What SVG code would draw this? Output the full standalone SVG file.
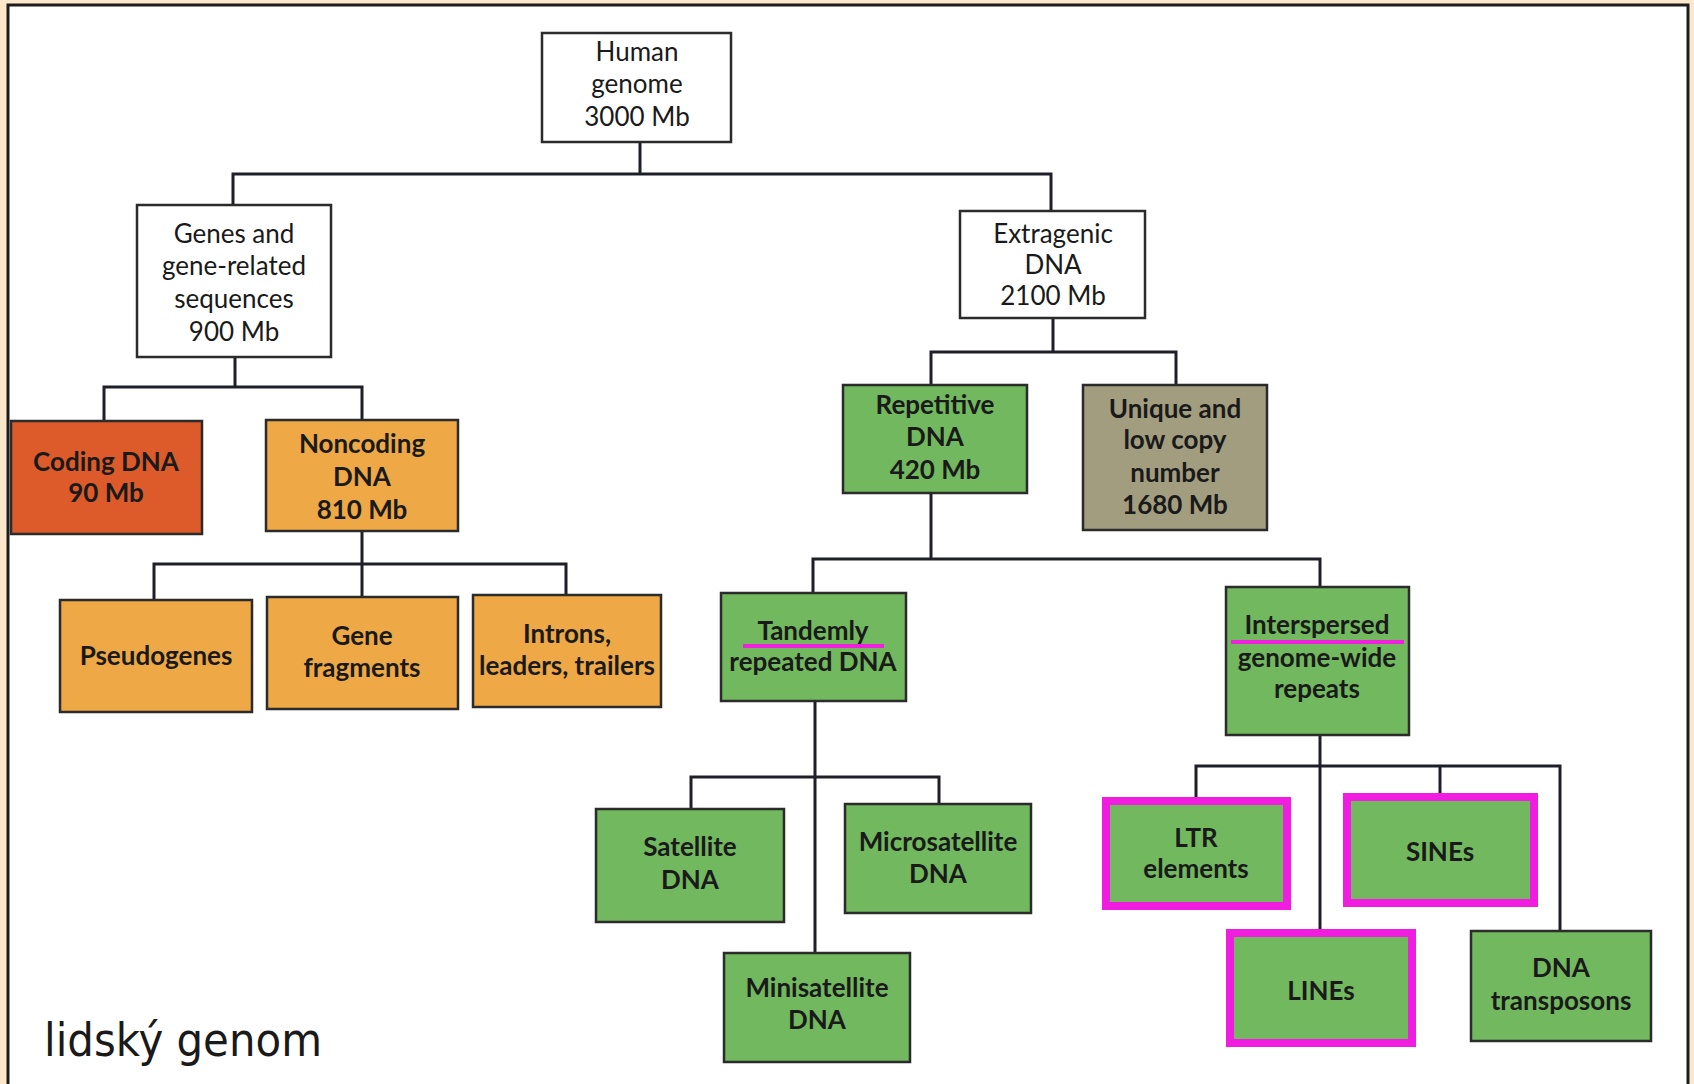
<svg xmlns="http://www.w3.org/2000/svg" width="1694" height="1084" viewBox="0 0 1694 1084">
<style>
.box{stroke:#2b2b2b;stroke-width:2.5}
.w{fill:#ffffff}
.red{fill:#dd5a2a}
.org{fill:#eea846}
.grn{fill:#72b85e}
.olv{fill:#a39d7f}
.hl{fill:none;stroke:#f01de0;stroke-width:8}
.ul{stroke:#ee22dd;stroke-width:4;fill:none}
text{font-family:Lato,"Open Sans","Liberation Sans",sans-serif;font-size:26px;fill:#1a1a1a;text-anchor:middle}
.b{font-weight:700}
.c{stroke:#1f1f2a;stroke-width:3;fill:none}
</style>
<rect x="0" y="0" width="1694" height="1084" fill="#fbe8cb"/>
<rect x="8" y="5" width="1680" height="1090" fill="#ffffff" stroke="#1c1c1c" stroke-width="3"/>
<g id="connectors">
<path class="c" d="M640 142V174M233 205V174H1051V211"/>
<path class="c" d="M235 357V387M104 421V387H362V420"/>
<path class="c" d="M362 531V564M154 600V564H566V595M362 564V597"/>
<path class="c" d="M1053 318V352M931 385V352H1176V385"/>
<path class="c" d="M931 493V559M813 594V559H1320V587"/>
<path class="c" d="M815 700V953M691 809V777H939V804"/>
<path class="c" d="M1320 735V929M1196 797V766H1560V931M1440 766V793"/>
</g>
<g id="human"><rect class="box w" x="542" y="33" width="189" height="109"/>
<text x="637" y="61">Human</text><text x="637" y="93">genome</text><text x="637" y="126">3000 Mb</text></g>
<g id="genes"><rect class="box w" x="137" y="205" width="194" height="152"/>
<text x="234" y="243">Genes and</text><text x="234" y="275">gene-related</text><text x="234" y="308">sequences</text><text x="234" y="341">900 Mb</text></g>
<g id="extragenic"><rect class="box w" x="960" y="211" width="185" height="107"/>
<text x="1053" y="243">Extragenic</text><text x="1053" y="274">DNA</text><text x="1053" y="305">2100 Mb</text></g>
<g id="coding"><rect class="box red" x="11" y="421" width="191" height="113"/>
<text class="b" x="106" y="471">Coding DNA</text><text class="b" x="106" y="502">90 Mb</text></g>
<g id="noncoding"><rect class="box org" x="266" y="420" width="192" height="111"/>
<text class="b" x="362" y="453">Noncoding</text><text class="b" x="362" y="486">DNA</text><text class="b" x="362" y="519">810 Mb</text></g>
<g id="repetitive"><rect class="box grn" x="843" y="385" width="184" height="108"/>
<text class="b" x="935" y="414">Repetitive</text><text class="b" x="935" y="446">DNA</text><text class="b" x="935" y="479">420 Mb</text></g>
<g id="unique"><rect class="box olv" x="1083" y="385" width="184" height="145"/>
<text class="b" x="1175" y="418">Unique and</text><text class="b" x="1175" y="449">low copy</text><text class="b" x="1175" y="482">number</text><text class="b" x="1175" y="514">1680 Mb</text></g>
<g id="pseudogenes"><rect class="box org" x="60" y="600" width="192" height="112"/>
<text class="b" x="156" y="665">Pseudogenes</text></g>
<g id="genefragments"><rect class="box org" x="267" y="597" width="191" height="112"/>
<text class="b" x="362" y="645">Gene</text><text class="b" x="362" y="677">fragments</text></g>
<g id="introns"><rect class="box org" x="473" y="595" width="188" height="112"/>
<text class="b" x="567" y="643">Introns,</text><text class="b" x="567" y="675" textLength="176" lengthAdjust="spacingAndGlyphs">leaders, trailers</text></g>
<g id="tandemly"><rect class="box grn" x="721" y="593" width="185" height="108"/>
<text class="b" x="813" y="640">Tandemly</text><text class="b" x="813" y="671">repeated DNA</text>
<path class="ul" d="M743 646H884"/></g>
<g id="interspersed"><rect class="box grn" x="1226" y="587" width="183" height="148"/>
<text class="b" x="1317" y="634">Interspersed</text><text class="b" x="1317" y="667">genome-wide</text><text class="b" x="1317" y="698">repeats</text>
<path class="ul" d="M1231 642H1404"/></g>
<g id="satellite"><rect class="box grn" x="596" y="809" width="188" height="113"/>
<text class="b" x="690" y="856">Satellite</text><text class="b" x="690" y="889">DNA</text></g>
<g id="microsatellite"><rect class="box grn" x="845" y="804" width="186" height="109"/>
<text class="b" x="938" y="851">Microsatellite</text><text class="b" x="938" y="883">DNA</text></g>
<g id="minisatellite"><rect class="box grn" x="724" y="953" width="186" height="109"/>
<text class="b" x="817" y="997">Minisatellite</text><text class="b" x="817" y="1029">DNA</text></g>
<g id="ltr"><rect class="grn" x="1102" y="797" width="189" height="113"/><rect class="hl" x="1106" y="801" width="181" height="105"/>
<text class="b" x="1196" y="847">LTR</text><text class="b" x="1196" y="878">elements</text></g>
<g id="sines"><rect class="grn" x="1343" y="793" width="195" height="114"/><rect class="hl" x="1347" y="797" width="187" height="106"/>
<text class="b" x="1440" y="861">SINEs</text></g>
<g id="lines"><rect class="grn" x="1226" y="929" width="190" height="118"/><rect class="hl" x="1230" y="933" width="182" height="110"/>
<text class="b" x="1321" y="1000">LINEs</text></g>
<g id="dnatransposons"><rect class="box grn" x="1471" y="931" width="180" height="110"/>
<text class="b" x="1561" y="977">DNA</text><text class="b" x="1561" y="1010">transposons</text></g>
<text x="44" y="1056" style="font-family:'DejaVu Sans Condensed','DejaVu Sans',sans-serif;font-size:47px;text-anchor:start" textLength="278" lengthAdjust="spacingAndGlyphs">lidský genom</text>
</svg>
